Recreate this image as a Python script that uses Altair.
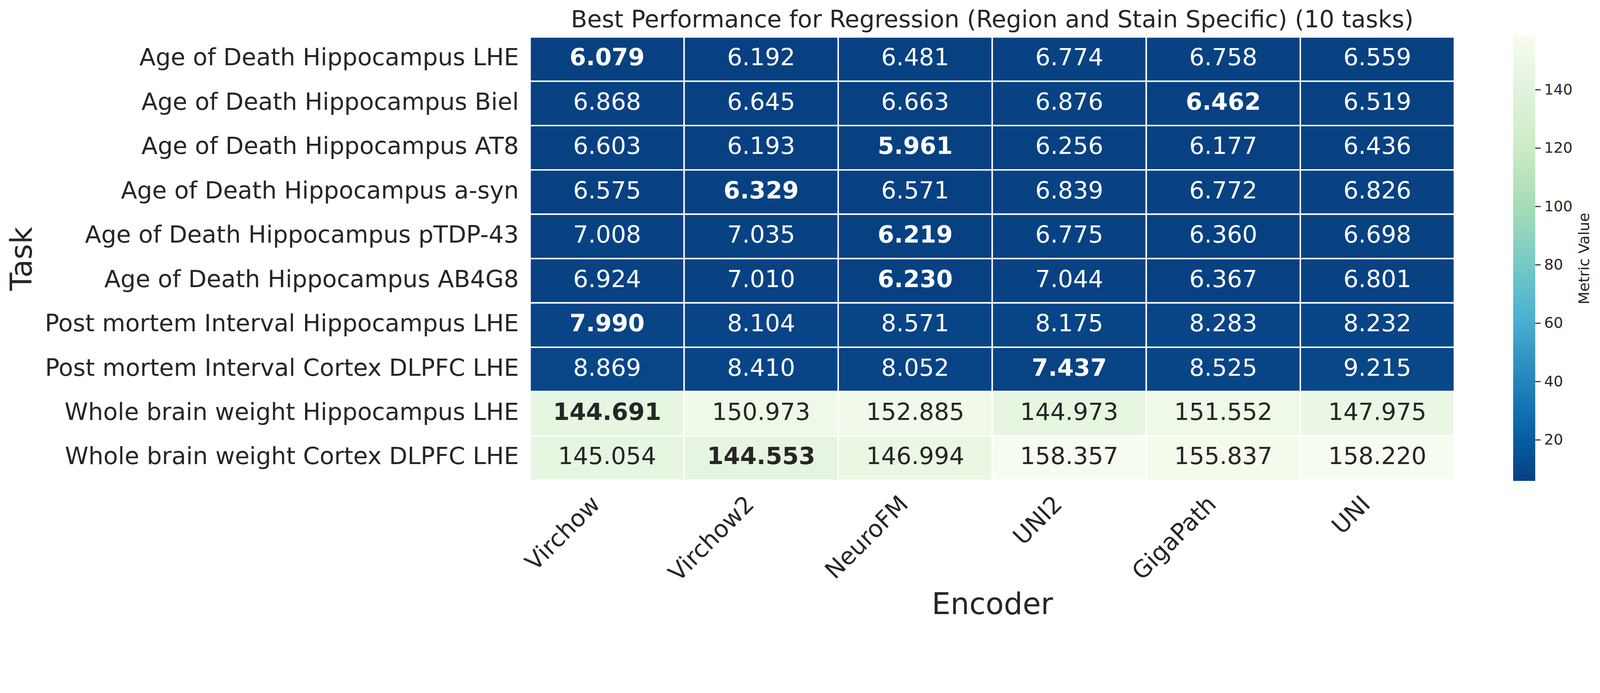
import altair as alt
import pandas as pd

tasks = [
    "Age of Death Hippocampus LHE",
    "Age of Death Hippocampus Biel",
    "Age of Death Hippocampus AT8",
    "Age of Death Hippocampus a-syn",
    "Age of Death Hippocampus pTDP-43",
    "Age of Death Hippocampus AB4G8",
    "Post mortem Interval Hippocampus LHE",
    "Post mortem Interval Cortex DLPFC LHE",
    "Whole brain weight Hippocampus LHE",
    "Whole brain weight Cortex DLPFC LHE",
]
encoders = ["Virchow", "Virchow2", "NeuroFM", "UNI2", "GigaPath", "UNI"]

virchow = [6.079, 6.868, 6.603, 6.575, 7.008, 6.924, 7.990, 8.869, 144.691, 145.054]
virchow2 = [6.192, 6.645, 6.193, 6.329, 7.035, 7.010, 8.104, 8.410, 150.973, 144.553]
neurofm = [6.481, 6.663, 5.961, 6.571, 6.219, 6.230, 8.571, 8.052, 152.885, 146.994]
uni2 = [6.774, 6.876, 6.256, 6.839, 6.775, 7.044, 8.175, 7.437, 144.973, 158.357]
gigapath = [6.758, 6.462, 6.177, 6.772, 6.360, 6.367, 8.283, 8.525, 151.552, 155.837]
uni = [6.559, 6.519, 6.436, 6.826, 6.698, 6.801, 8.232, 9.215, 147.975, 158.220]

colorbar_ticks = [20, 40, 60, 80, 100, 120, 140]
title_text = "Best Performance for Regression (Region and Stain Specific) (10 tasks)"

# matplotlib GnBu, reversed (low = dark blue, high = near white)
gnbu_r = ["#084081", "#0868ac", "#2b8cbe", "#4eb3d3", "#7bccc4",
          "#a8ddb5", "#ccebc5", "#e0f3db", "#f7fcf0"]

columns = [virchow, virchow2, neurofm, uni2, gigapath, uni]
rows = []
for enc, col in zip(encoders, columns):
    for task, v in zip(tasks, col):
        rows.append({"encoder": enc, "task": task, "value": v})
df = pd.DataFrame(rows)
df["best"] = df.groupby("task")["value"].transform("min") == df["value"]

vmin, vmax = df["value"].min(), df["value"].max()
stops = [vmin + i * (vmax - vmin) / (len(gnbu_r) - 1) for i in range(len(gnbu_r))]

W, H = 2594, 1244
TXT = "#262626"
FONT = "DejaVu Sans"
CB_X, CB_Y, CB_LEN, CB_W = 2759, -2, 1248, 62

x_enc = alt.X(
    "encoder:N", sort=encoders,
    scale=alt.Scale(paddingInner=0, paddingOuter=0),
    axis=alt.Axis(
        title="Encoder", labelAngle=315, labelAlign="right",
        labelBaseline="alphabetic", labelOffset=-16, labelPadding=71,
        ticks=False, domain=False, labelFontSize=66.7, labelColor=TXT,
        labelFont=FONT, labelLimit=3000,
        titleFontSize=83.3, titleFontWeight="normal", titleColor=TXT,
        titleFont=FONT, titleX=W / 2, titleY=375, titleBaseline="alphabetic",
        titleAlign="center",
    ),
)
y_enc = alt.Y(
    "task:N", sort=tasks,
    scale=alt.Scale(paddingInner=0, paddingOuter=0),
    axis=alt.Axis(
        title="Task", labelAlign="right", labelBaseline="alphabetic",
        labelOffset=17.5, labelPadding=32, ticks=False, domain=False,
        labelFontSize=66.7, labelColor=TXT, labelFont=FONT, labelLimit=3000,
        titleFontSize=83.3, titleFontWeight="normal", titleColor=TXT,
        titleFont=FONT, titleAngle=270, titleX=-1400, titleY=H / 2,
        titleBaseline="alphabetic", titleAlign="center",
    ),
)

base = alt.Chart(df)

rect = base.mark_rect(stroke="white", strokeWidth=4).encode(
    x=x_enc,
    y=y_enc,
    color=alt.Color(
        "value:Q",
        scale=alt.Scale(domain=stops, range=gnbu_r, interpolate="rgb"),
        legend=alt.Legend(
            title=None, orient="none", legendX=CB_X, legendY=CB_Y,
            direction="vertical", gradientLength=CB_LEN, gradientThickness=CB_W,
            values=colorbar_ticks, labelFontSize=41.7, labelOffset=25,
            labelOverlap=False, gradientStrokeWidth=0,
            labelColor=TXT, labelFont=FONT,
        ),
    ),
)

text_color = alt.condition(alt.datum.value > 80, alt.value(TXT), alt.value("#ffffff"))

text_norm = base.transform_filter("!datum.best").mark_text(
    fontSize=66.7, font=FONT, baseline="alphabetic", dy=17.5
).encode(
    x=x_enc, y=y_enc,
    text=alt.Text("value:Q", format=".3f"),
    color=text_color,
)

text_best = base.transform_filter("datum.best").mark_text(
    fontSize=66.7, font=FONT, fontWeight="bold", baseline="alphabetic", dy=17.5
).encode(
    x=x_enc, y=y_enc,
    text=alt.Text("value:Q", format=".3f"),
    color=text_color,
)

cbar_title = alt.Chart(pd.DataFrame({"t": ["Metric Value"]})).mark_text(
    angle=270, fontSize=41.7, font=FONT, baseline="alphabetic",
    align="center", color=TXT
).encode(
    x=alt.value(2972), y=alt.value(H / 2), text="t:N"
)

title_mark = alt.Chart(pd.DataFrame({"t": [title_text]})).mark_text(
    fontSize=66.7, font=FONT, baseline="alphabetic", align="center", color=TXT
).encode(
    x=alt.value(W / 2), y=alt.value(-27), text="t:N"
)

heat = alt.layer(rect, text_norm, text_best, cbar_title, title_mark)

cb_ticks = alt.Chart(pd.DataFrame({"tick": colorbar_ticks})).mark_rule(
    color=TXT, strokeWidth=3
).encode(
    y=alt.Y("tick:Q", scale=alt.Scale(domain=[vmin, vmax], range=[CB_Y + CB_LEN, CB_Y]),
            axis=None),
    x=alt.value(CB_X + CB_W),
    x2=alt.value(CB_X + CB_W + 15),
)

chart = alt.layer(heat, cb_ticks).resolve_scale(y="independent").properties(
    width=W, height=H,
    autosize=alt.AutoSizeParams(type="none"),
    padding={"left": 1479, "top": 15, "right": 400, "bottom": 400},
).configure_view(stroke=None).configure(font=FONT)

chart.save("out.html", embed_options={"renderer": "svg", "actions": False})
